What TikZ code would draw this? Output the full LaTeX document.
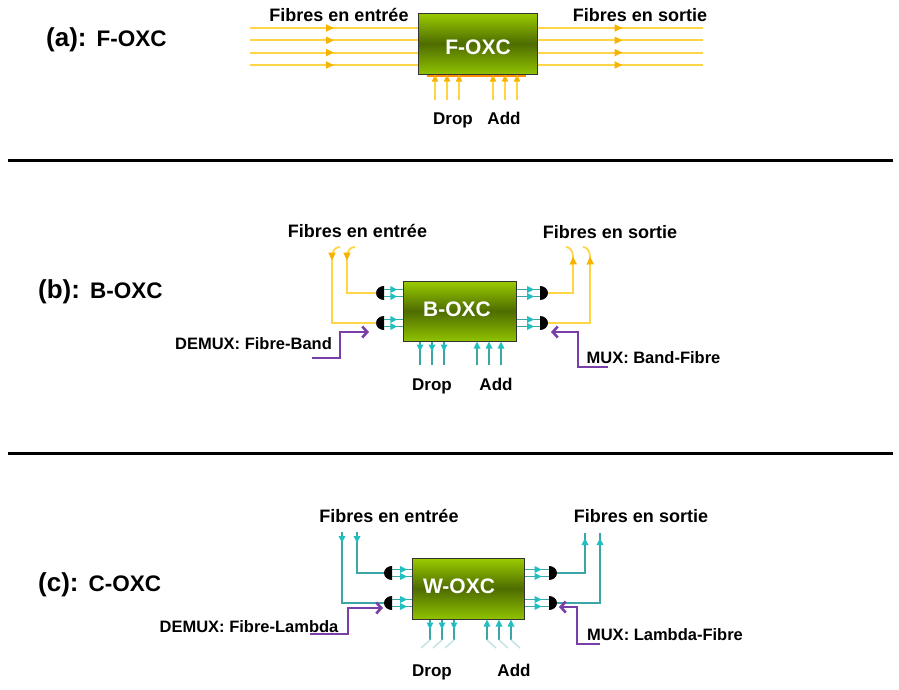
\documentclass[tikz,border=0pt]{standalone}
\usepackage{fontspec}
\setmainfont{Liberation Sans}
\usetikzlibrary{arrows.meta,decorations.markings}
\definecolor{fibre}{HTML}{FFD447}
\definecolor{fibretip}{HTML}{F6B400}
\definecolor{band}{HTML}{3CA5A5}
\definecolor{bandtip}{HTML}{22BFC2}
\definecolor{ctrl}{HTML}{7A3EA8}
\definecolor{oxctop}{HTML}{9ACC00}
\definecolor{oxcmid}{HTML}{4E6C00}
\definecolor{oxcbot}{HTML}{90C200}
\begin{document}
\begin{tikzpicture}[x=1pt,y=-1pt,
  oxc/.style={draw=black!80, line width=1pt, top color=oxctop, bottom color=oxcbot,
    middle color=oxcmid, inner sep=0pt},
  boxtxt/.style={font=\bfseries\fontsize{21}{22}\selectfont, text=white, inner sep=0pt},
  lbl/.style={font=\bfseries\fontsize{18}{20}\selectfont, inner sep=0pt, anchor=base},
  dlbl/.style={font=\bfseries\fontsize{17}{19}\selectfont, inner sep=0pt, anchor=base},
  slbl/.style={font=\bfseries\fontsize{16.5}{18}\selectfont, inner sep=0pt, anchor=base},
  title/.style={inner sep=0pt, anchor=base west},
  sep/.style={line width=3pt, draw=black},
  yline/.style={draw=fibre, line width=1.8pt},
  tline/.style={draw=band, line width=1.8pt},
  fade/.style={draw=band!30, line width=1.5pt},
  pline/.style={draw=ctrl, line width=2.6pt, -{Straight Barb[length=5pt,width=11pt]}},
  ymark/.style={postaction={decorate, decoration={markings,
      mark=at position #1 with {\arrow[fibretip]{Triangle[length=8pt,width=7pt]}}}}},
  tmark/.style={postaction={decorate, decoration={markings,
      mark=at position #1 with {\arrow[bandtip]{Triangle[length=7pt,width=6.5pt]}}}}},
  yup/.style={yline, line width=1.6pt, -{Triangle[length=7pt,width=6pt,color=fibretip]}},
  tup/.style={tline, line width=1.6pt, -{Triangle[length=7pt,width=6.5pt,color=bandtip]}},
  dmx/.style={minimum width=8pt, minimum height=14pt, inner sep=0pt, outer sep=0pt,
    path picture={\fill[black] (path picture bounding box.north east)
      -- (path picture bounding box.south east)
      arc[start angle=-90, end angle=-270, x radius=8pt, y radius=7pt] -- cycle;}},
  mux/.style={minimum width=8pt, minimum height=14pt, inner sep=0pt, outer sep=0pt,
    path picture={\fill[black] (path picture bounding box.south west)
      -- (path picture bounding box.north west)
      arc[start angle=90, end angle=-90, x radius=8pt, y radius=7pt] -- cycle;}}
]
\useasboundingbox (0,0) rectangle (899,689);

% ---------- separators ----------
\coordinate (s1a) at (8,160);  \coordinate (s1b) at (893,160);
\coordinate (s2a) at (8,453);  \coordinate (s2b) at (893,453);
\draw[sep] (s1a) -- (s1b);
\draw[sep] (s2a) -- (s2b);

% ================= (a) F-OXC =================
\node[title] (ta) at (46,46.5) {\bfseries\fontsize{26}{28}\selectfont (a):\hspace{10pt}\fontsize{22.5}{24}\selectfont F-OXC};
\node[oxc, minimum width=119pt, minimum height=61pt] (foxc) at (477.5,43.5) {};
\node[boxtxt] (foxct) at (478,47.5) {F-OXC};
\draw[draw=orange!90!yellow, line width=1.5pt] ([xshift=9pt,yshift=-1.6pt]foxc.south west) -- ([xshift=-12pt,yshift=-1.6pt]foxc.south east);

\foreach \y [count=\i] in {28,40.3,52.6,65} {
  \coordinate (ain\i) at (250,\y);
  \coordinate (aout\i) at (703,\y);
  \draw[yline, ymark=84pt] (ain\i) -- (ain\i -| foxc.west);
  \draw[yline, ymark=85pt] (aout\i -| foxc.east) -- (aout\i);
}
\foreach \x [count=\i] in {435,447,459} {
  \coordinate (adrop\i) at (\x,100);
  \draw[yup] (adrop\i) -- (adrop\i |- foxc.south);
}
\foreach \x [count=\i] in {493,505,517} {
  \coordinate (aadd\i) at (\x,100);
  \draw[yup] (aadd\i) -- (aadd\i |- foxc.south);
}
\node[lbl] (afin)  at (339,21.5) {Fibres en entrée};
\node[lbl] (afout) at (640,21.5) {Fibres en sortie};
\node[dlbl] (adl) at (453,124) {Drop};
\node[dlbl] (aal) at (504,124) {Add};

% ================= (b) B-OXC =================
\node[title] (tb) at (38,298) {\bfseries\fontsize{26}{28}\selectfont (b):\hspace{10pt}\fontsize{22.5}{24}\selectfont B-OXC};
\node[oxc, minimum width=113pt, minimum height=60pt] (boxc) at (459.5,311) {};
\node[boxtxt] (boxct) at (457,309) {B-OXC};
\node[dmx] (bd1) at (380,293) {};
\node[dmx] (bd2) at (380,323) {};
\node[mux] (bm1) at (544,293) {};
\node[mux] (bm2) at (544,323) {};

\foreach \n in {bd1,bd2} {
  \foreach \s in {3.5,-3.5} {
    \coordinate (t) at ([yshift=\s pt]\n.east);
    \draw[tline, line width=1.6pt, tmark=0.72] (t) -- (t -| boxc.west);
  }
}
\foreach \n in {bm1,bm2} {
  \foreach \s in {3.5,-3.5} {
    \coordinate (t) at ([yshift=\s pt]\n.west);
    \draw[tline, line width=1.6pt, tmark=0.75] (t -| boxc.east) -- (t);
  }
}
% fibres into the demultiplexers
\coordinate (bin1) at (355,247);
\coordinate (bin2) at (340,247);
\draw[yline, ymark=18pt] (bin1) .. controls (350,247) and (347,251) .. (347,257) |- (bd1.west);
\draw[yline, ymark=18pt] (bin2) .. controls (335,247) and (332,251) .. (332,257) |- (bd2.west);
% fibres out of the multiplexers
\coordinate (bout1) at (566,247);
\coordinate (bout2) at (583,247);
\draw[yline, ymark=-13pt] (bm1.east) -| (573,257) .. controls (573,251) and (570,247) .. (bout1);
\draw[yline, ymark=-13pt] (bm2.east) -| (590,257) .. controls (590,251) and (587,247) .. (bout2);
% control arrows
\coordinate (bdx) at (312,358);
\coordinate (bdxtip) at (369,332);
\draw[pline] (bdx) -- (340,358) -- (340,332) -- (bdxtip);
\coordinate (bmx) at (608,367);
\coordinate (bmxtip) at (551,332);
\draw[pline] (bmx) -- (578,367) -- (578,332) -- (bmxtip);
% drop / add
\foreach \x [count=\i] in {420,432,444} {
  \coordinate (bdrop\i) at (\x,365);
  \draw[tline, line width=1.6pt, tmark=10pt] (bdrop\i |- boxc.south) -- (bdrop\i);
}
\foreach \x [count=\i] in {477,489,501} {
  \coordinate (badd\i) at (\x,365);
  \draw[tup] (badd\i) -- (badd\i |- boxc.south);
}
\node[lbl] (bfin)  at (357.5,237) {Fibres en entrée};
\node[lbl] (bfout) at (610,238) {Fibres en sortie};
\node[slbl] (bdl) at (253.5,349) {DEMUX: Fibre-Band};
\node[slbl] (bml) at (653.5,363) {MUX: Band-Fibre};
\node[dlbl] (bdropl) at (432,390) {Drop};
\node[dlbl] (baddl) at (496,390) {Add};

% ================= (c) C-OXC =================
\node[title] (tc) at (38,591) {\bfseries\fontsize{26}{28}\selectfont (c):\hspace{10pt}\fontsize{22.5}{24}\selectfont C-OXC};
\node[oxc, minimum width=112pt, minimum height=61pt] (woxc) at (468,588.5) {};
\node[boxtxt] (woxct) at (459,586) {W-OXC};
\node[dmx] (cd1) at (388,573) {};
\node[dmx] (cd2) at (388,603) {};
\node[mux] (cm1) at (553,573) {};
\node[mux] (cm2) at (553,603) {};

\foreach \n in {cd1,cd2} {
  \foreach \s in {3.5,-3.5} {
    \coordinate (t) at ([yshift=\s pt]\n.east);
    \draw[tline, line width=1.6pt, tmark=0.78] (t) -- (t -| woxc.west);
  }
}
\foreach \n in {cm1,cm2} {
  \foreach \s in {3.5,-3.5} {
    \coordinate (t) at ([yshift=\s pt]\n.west);
    \draw[tline, line width=1.6pt, tmark=0.7] (t -| woxc.east) -- (t);
  }
}
% wavelengths in / out
\coordinate (cin1) at (357,532);
\coordinate (cin2) at (342,532);
\draw[tline, tmark=11pt] (cin1) |- (cd1.west);
\draw[tline, tmark=11pt] (cin2) |- (cd2.west);
\coordinate (cout1) at (585,533);
\coordinate (cout2) at (600,533);
\draw[tline, tmark=-5pt] (cm1.east) -| (cout1);
\draw[tline, tmark=-5pt] (cm2.east) -| (cout2);
% control arrows
\coordinate (cdx) at (310,634);
\coordinate (cdxtip) at (383,608);
\draw[pline] (cdx) -- (348,634) -- (348,608) -- (cdxtip);
\coordinate (cmx) at (600,644);
\coordinate (cmxtip) at (559,607);
\draw[pline] (cmx) -- (577,644) -- (577,607) -- (cmxtip);
% drop / add
\foreach \x [count=\i] in {430,442,454} {
  \coordinate (cdrop\i) at (\x,640);
  \draw[tline, line width=1.6pt, tmark=10pt] (cdrop\i |- woxc.south) -- (cdrop\i);
  \draw[fade] (cdrop\i) -- ++(-9,8);
}
\foreach \x [count=\i] in {487,499,511} {
  \coordinate (cadd\i) at (\x,640);
  \draw[tup] (cadd\i) -- (cadd\i |- woxc.south);
  \draw[fade] (cadd\i) -- ++(9,8);
}
\node[lbl] (cfin)  at (389,522) {Fibres en entrée};
\node[lbl] (cfout) at (641,522) {Fibres en sortie};
\node[slbl] (cdl) at (249,632) {DEMUX: Fibre-Lambda};
\node[slbl] (cml) at (665,640) {MUX: Lambda-Fibre};
\node[dlbl] (cdropl) at (432,676) {Drop};
\node[dlbl] (caddl) at (514,676) {Add};
\end{tikzpicture}
\end{document}
